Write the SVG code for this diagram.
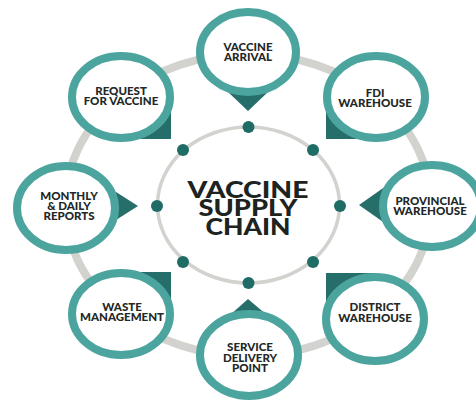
<svg xmlns="http://www.w3.org/2000/svg" width="476" height="400" viewBox="0 0 476 400">
<defs>
<style>
.ring{fill:none;stroke:#d2d2ce;stroke-width:8}
.inner{fill:none;stroke:#d2d2ce;stroke-width:3.5}
.dot{fill:#1f6b65}
.ptr{fill:#256e69}
.node{fill:#fff;stroke:#4ba49e;stroke-width:8}
.lbl{font-family:Lato,"Open Sans","Liberation Sans",sans-serif;font-weight:900;font-size:11.5px;fill:#222826;text-anchor:middle}
.title{font-family:Lato,"Open Sans","Liberation Sans",sans-serif;font-weight:900;font-size:22px;fill:#1c2321;text-anchor:middle}
</style>
</defs>
<rect width="476" height="400" fill="#fff"/>
<g id="connectors">
<ellipse class="ring" cx="248" cy="205" rx="183" ry="151"/>
<ellipse class="inner" cx="248.5" cy="205" rx="91" ry="78"/>
<circle class="dot" cx="248.5" cy="127" r="6"/>
<circle class="dot" cx="313" cy="150" r="6"/>
<circle class="dot" cx="340" cy="206" r="6"/>
<circle class="dot" cx="313" cy="262" r="6"/>
<circle class="dot" cx="248.5" cy="283" r="6"/>
<circle class="dot" cx="183" cy="262" r="6"/>
<circle class="dot" cx="157" cy="206" r="6"/>
<circle class="dot" cx="183" cy="150" r="6"/>
</g>
<g id="center">
<text class="title" x="248" y="198" textLength="121" lengthAdjust="spacingAndGlyphs">VACCINE</text>
<text class="title" x="248" y="216" textLength="99" lengthAdjust="spacingAndGlyphs">SUPPLY</text>
<text class="title" x="248" y="235" textLength="85" lengthAdjust="spacingAndGlyphs">CHAIN</text>
</g>
<g id="vaccine-arrival">
<polygon class="ptr" points="228,92 268,92 248,111"/>
<ellipse class="node" cx="248" cy="52" rx="48" ry="40"/>
<text class="lbl" x="248" y="51">VACCINE</text>
<text class="lbl" x="248" y="61">ARRIVAL</text>
</g>
<g id="fdi-warehouse">
<rect class="ptr" x="326" y="97" width="50" height="42"/>
<ellipse class="node" cx="376" cy="97" rx="49" ry="41"/>
<text class="lbl" x="375" y="97">FDI</text>
<text class="lbl" x="375" y="107">WAREHOUSE</text>
</g>
<g id="provincial-warehouse">
<polygon class="ptr" points="386,186 386,224 359,205"/>
<ellipse class="node" cx="432" cy="206" rx="49" ry="41"/>
<text class="lbl" x="430" y="205">PROVINCIAL</text>
<text class="lbl" x="430" y="215">WAREHOUSE</text>
</g>
<g id="district-warehouse">
<rect class="ptr" x="326" y="273" width="50" height="46"/>
<ellipse class="node" cx="375" cy="319" rx="49" ry="42"/>
<text class="lbl" x="375" y="311">DISTRICT</text>
<text class="lbl" x="375" y="322">WAREHOUSE</text>
</g>
<g id="service-delivery-point">
<polygon class="ptr" points="229,316 268,316 248,299"/>
<ellipse class="node" cx="249" cy="355" rx="49" ry="41"/>
<text class="lbl" x="250" y="351">SERVICE</text>
<text class="lbl" x="250" y="361.5">DELIVERY</text>
<text class="lbl" x="250" y="372">POINT</text>
</g>
<g id="waste-management">
<rect class="ptr" x="121" y="272" width="50" height="42"/>
<ellipse class="node" cx="121" cy="314" rx="49" ry="41"/>
<text class="lbl" x="122" y="311">WASTE</text>
<text class="lbl" x="122" y="321">MANAGEMENT</text>
</g>
<g id="monthly-daily-reports">
<polygon class="ptr" points="116,192 116,220 138,206"/>
<ellipse class="node" cx="66" cy="208" rx="49" ry="42"/>
<text class="lbl" x="69" y="200">MONTHLY</text>
<text class="lbl" x="69" y="210">&amp; DAILY</text>
<text class="lbl" x="69" y="220">REPORTS</text>
</g>
<g id="request-for-vaccine">
<rect class="ptr" x="121" y="97" width="50" height="42"/>
<ellipse class="node" cx="121" cy="97" rx="49" ry="41"/>
<text class="lbl" x="121" y="95">REQUEST</text>
<text class="lbl" x="121" y="105">FOR VACCINE</text>
</g>
</svg>
